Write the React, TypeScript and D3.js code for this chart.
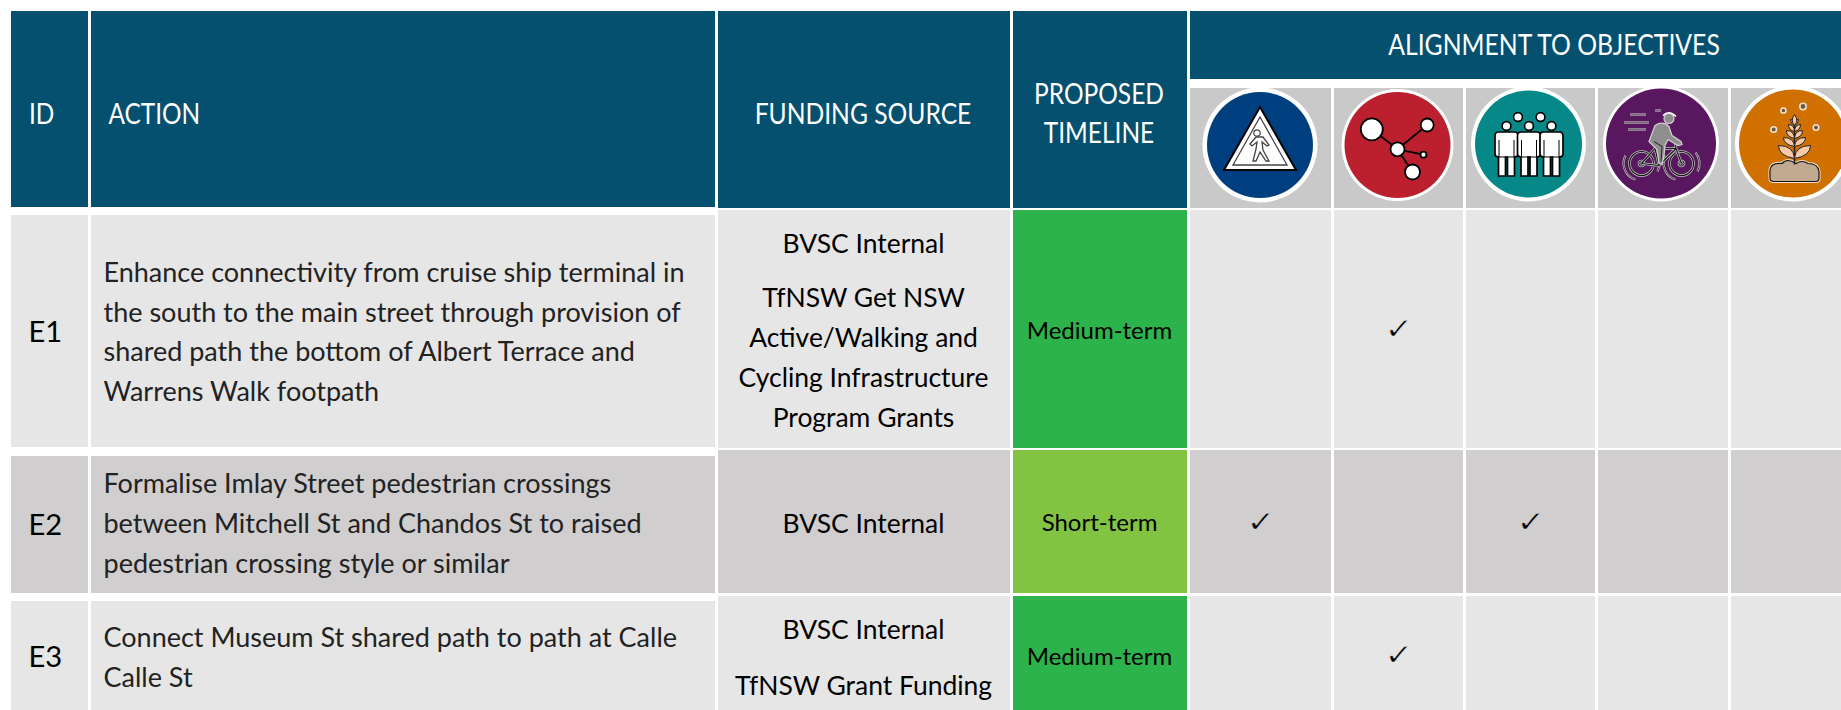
import React, { useEffect, useRef } from "react";
import * as d3 from "d3";

// table content
const ids = ["E1", "E2", "E3"];
const actions = [
  [
    "Enhance connectivity from cruise ship terminal in",
    "the south to the main street through provision of",
    "shared path the bottom of Albert Terrace and",
    "Warrens Walk footpath",
  ],
  [
    "Formalise Imlay Street pedestrian crossings",
    "between Mitchell St and Chandos St to raised",
    "pedestrian crossing style or similar",
  ],
  ["Connect Museum St shared path to path at Calle", "Calle St"],
];
const funding = [
  ["BVSC Internal", "TfNSW Get NSW", "Active/Walking and", "Cycling Infrastructure", "Program Grants"],
  ["BVSC Internal"],
  ["BVSC Internal", "TfNSW Grant Funding"],
];
const timeline = ["Medium-term", "Short-term", "Medium-term"];
const objectives = ["safety", "connect", "community", "active", "growth"];
const alignment = [["connect"], ["safety", "community"], ["connect"]];

const WIDTH = 1841;
const HEIGHT = 710;
const FONT = "Lato";

const colors = {
  header: "#04506e",
  light: "#e6e6e6",
  dark: "#d0cecf",
  iconBg: "#c9c9c9",
  medium: "#2db34b",
  short: "#82c341",
};
const objX = [
  [1190, 1331],
  [1334, 1463],
  [1466, 1595],
  [1598, 1728],
  [1731, 1841],
];
const rowY = [
  [210, 448],
  [450, 593],
  [596, 710],
];
const leftRowY = [
  [215, 447],
  [456, 593],
  [601, 710],
];
const idBase = [342, 535, 667];
const actionBase = [
  [282, 321.5, 361, 400.5],
  [493, 533, 573],
  [647, 687],
];
const fundBase = [
  [253, 307, 347, 387, 427],
  [533],
  [639, 695],
];
const timeBase = [339, 531, 665];
const checkY = [339, 532, 665];
const iconCentre = [
  { x: 1260, y: 145, outer: 57.5, inner: 53, fill: "#003f7f" },
  { x: 1397.5, y: 145, outer: 56, inner: 53, fill: "#bc1f2e" },
  { x: 1528.5, y: 144, outer: 57.5, inner: 53.5, fill: "#078888" },
  { x: 1661, y: 143.5, outer: 58, inner: 55, fill: "#58175e" },
  { x: 1793, y: 143.5, outer: 58, inner: 54, fill: "#d07000" },
];

type G = d3.Selection<SVGGElement, unknown, null, undefined>;

function drawSafety(g: G) {
  g.append("path").attr("d", "M0,-38 L36,25 L-36,25 Z").attr("fill", "#fff").attr("stroke", "#000").attr("stroke-width", 2);
  g.append("path").attr("d", "M0,-28 L27,20 L-27,20 Z").attr("fill", "none").attr("stroke", "#444").attr("stroke-width", 1.3);
  g.append("circle").attr("cx", -3).attr("cy", -12).attr("r", 3.2).attr("fill", "#fff").attr("stroke", "#444").attr("stroke-width", 1.2);
  g.append("path")
    .attr("d", "M-4,-8 L3,-8 L9,0 L7,1 L2,-3 L3,5 L9,16 L6,16 L0,7 L-4,16 L-7,16 L-4,4 L-3,-3 L-8,1 L-10,-1 Z")
    .attr("fill", "#fff")
    .attr("stroke", "#444")
    .attr("stroke-width", 1.3);
}

function drawConnect(g: G) {
  const nodes = [
    [-25.7, -15.7, 11],
    [29.7, -20, 6.5],
    [0, 4.3, 7],
    [26, 9.7, 3],
    [15, 27, 7.5],
  ];
  [0, 1, 3, 4].forEach(i => {
    g.append("line")
      .attr("x1", nodes[2][0]).attr("y1", nodes[2][1])
      .attr("x2", nodes[i][0]).attr("y2", nodes[i][1])
      .attr("stroke", "#000").attr("stroke-width", 1.8);
  });
  nodes.forEach(n => {
    g.append("circle").attr("cx", n[0]).attr("cy", n[1]).attr("r", n[2])
      .attr("fill", "#fff").attr("stroke", "#000").attr("stroke-width", 1.8);
  });
}

function drawCommunity(g: G) {
  [[-22, -18], [-10.5, -27], [0.5, -18], [12, -27], [23, -18]].forEach(h => {
    g.append("circle").attr("cx", h[0]).attr("cy", h[1]).attr("r", 4.4)
      .attr("fill", "#fff").attr("stroke", "#000").attr("stroke-width", 1.6);
  });
  [-22, 0.5, 23].forEach(x => {
    g.append("path")
      .attr("transform", `translate(${x},0)`)
      .attr("d", "M-8,-12 H8 Q11.5,-12 11.5,-8 V10 Q11.5,13 8,13 V32 H1 V13 H-1 V32 H-8 V13 Q-11.5,13 -11.5,10 V-8 Q-11.5,-12 -8,-12 Z")
      .attr("fill", "#fff").attr("stroke", "#000").attr("stroke-width", 1.7);
    g.append("path")
      .attr("transform", `translate(${x},0)`)
      .attr("d", "M-7.5,-4 V13 H7.5 V-4")
      .attr("fill", "none").attr("stroke", "#000").attr("stroke-width", 1);
  });
}

// black line with the pale halo the cyclist icon has
function halo(g: G, d: string, width = 1.2) {
  g.append("path").attr("d", d).attr("fill", "none").attr("stroke", "#c4c4c4").attr("stroke-width", width + 1.4);
  g.append("path").attr("d", d).attr("fill", "none").attr("stroke", "#1a1a1a").attr("stroke-width", width);
}

function drawActive(g: G) {
  [-19.5, 20.5].forEach(x => {
    const ring = (r: number) => `M${x - r},20 A${r},${r} 0 1 1 ${x + r},20 A${r},${r} 0 1 1 ${x - r},20`;
    halo(g, ring(12));
    halo(g, ring(2.6), 1);
    halo(g, `M${x - 16},12 A17,17 0 0 0 ${x - 6},36 M${x + 16},28 A17,17 0 0 0 ${x + 14},9`, 0.8);
  });
  halo(g, "M-19.5,20 L-6,5 L15,5 L20.5,20 M-6,5 L-2,22 L15,5 M-2,22 L-19.5,20 M14,-6 L15,5");
  g.append("path")
    .attr("d", "M-12,-2 L-6,-18 Q2,-23 8,-17 L11,-8 L20,-2 L21,1 L17,2 L7,-4 L4,2 L3,12 L1,21 L-2,20 L-4,6 L-12,-2 Z")
    .attr("fill", "#8e8e8e").attr("stroke", "#d0d0d0").attr("stroke-width", 1.2);
  g.append("path").attr("d", "M-7,-2 L1,3 L0,18").attr("fill", "none").attr("stroke", "#222").attr("stroke-width", 1);
  g.append("circle").attr("cx", 8).attr("cy", -25).attr("r", 5)
    .attr("fill", "#8e8e8e").attr("stroke", "#d0d0d0").attr("stroke-width", 1.2);
  g.append("path").attr("d", "M2,-28 Q8,-34 15,-27").attr("fill", "none").attr("stroke", "#fff").attr("stroke-width", 1.6);
  g.append("path")
    .attr("d", "M-31,-29 H-15 M-37,-21 H-12 M-33,-14 H-15 M-6,-33 H0")
    .attr("fill", "none").attr("stroke", "#d8d8d8").attr("stroke-width", 2.2);
  g.append("path")
    .attr("d", "M-31,-29 H-15 M-37,-21 H-12 M-33,-14 H-15 M-6,-33 H0")
    .attr("fill", "none").attr("stroke", "#444").attr("stroke-width", 0.7);
}

function drawGrowth(g: G) {
  [[-9.6, -33, 2.6], [10, -37, 3.2], [-19.3, -14, 2.8], [23, -16, 2.8]].forEach(d => {
    g.append("circle").attr("cx", d[0]).attr("cy", d[1]).attr("r", d[2])
      .attr("fill", "#6a5a48").attr("stroke", "#f5e4d0").attr("stroke-width", 1.5);
  });
  const soil = "M-23,35 V26 Q-22,19 -11,20 Q-6,14 3,20 Q9,16 15,20 Q25,20 26,28 V35 Q26,38 22,38 H-19 Q-23,38 -23,35 Z";
  g.append("path").attr("d", soil).attr("fill", "#c0a98e").attr("stroke", "#f5e4d0").attr("stroke-width", 3);
  g.append("path").attr("d", soil).attr("fill", "#c0a98e").attr("stroke", "#111").attr("stroke-width", 1.2);
  g.append("path").attr("d", "M1.5,21 V-20").attr("stroke", "#222").attr("stroke-width", 1.6);
  // leaf pairs, bottom to top: [y of the base, length, rise]
  const leaves = [
    [15, 16, 13],
    [3, 11, 9],
    [-5, 8, 8],
    [-12, 6, 7],
    [-18, 4, 6],
  ];
  leaves.forEach(l => {
    [-1, 1].forEach(side => {
      const x0 = 1.5;
      const x1 = x0 + side * l[1];
      g.append("path")
        .attr("d", `M${x0},${l[0]} Q${x0 + side * l[1] * 0.05},${l[0] - l[2]} ${x1},${l[0] - l[2]} Q${x1},${l[0] - l[2] * 0.2} ${x0},${l[0]} Z`)
        .attr("fill", "#f9c9a8").attr("stroke", "#222").attr("stroke-width", 1);
    });
  });
  g.append("path").attr("d", "M1.5,-18 Q6,-23 1.5,-29 Q-3,-23 1.5,-18 Z").attr("fill", "#f9c9a8").attr("stroke", "#222").attr("stroke-width", 1);
}

const iconDrawers: Record<string, (g: G) => void> = {
  safety: drawSafety,
  connect: drawConnect,
  community: drawCommunity,
  active: drawActive,
  growth: drawGrowth,
};

export default function App() {
  const ref = useRef<SVGSVGElement>(null);

  useEffect(() => {
    const svg = d3.select(ref.current as SVGSVGElement);
    svg.selectAll("*").remove();

    const rect = (x0: number, x1: number, y0: number, y1: number, fill: string) =>
      svg.append("rect").attr("x", x0).attr("y", y0).attr("width", x1 - x0).attr("height", y1 - y0).attr("fill", fill);

    // sx condenses the caps so Lato sits at the width of the original's face
    const label = (
      str: string,
      x: number,
      y: number,
      size: number,
      fill: string,
      anchor: string,
      sx: number,
      family = FONT
    ) =>
      svg.append("text")
        .attr("transform", `translate(${x},${y}) scale(${sx},1)`)
        .attr("text-anchor", anchor)
        .attr("font-family", family)
        .attr("font-size", size)
        .attr("fill", fill)
        .text(str);

    const objScale = d3.scaleOrdinal<string, number[]>().domain(objectives).range(objX);

    // header
    rect(11, 88, 11, 207, colors.header);
    rect(91, 715, 11, 207, colors.header);
    rect(718, 1010, 11, 208, colors.header);
    rect(1013, 1187, 11, 208, colors.header);
    rect(1190, WIDTH, 11, 79, colors.header);
    label("ID", 29, 124, 28, "#fff", "start", 0.87);
    label("ACTION", 108.5, 124, 28, "#fff", "start", 0.87);
    label("FUNDING SOURCE", 863, 124, 28, "#fff", "middle", 0.88);
    label("PROPOSED", 1099, 104, 28, "#fff", "middle", 0.875);
    label("TIMELINE", 1099, 143, 28, "#fff", "middle", 0.875);
    label("ALIGNMENT TO OBJECTIVES", 1554, 55, 28, "#fff", "middle", 0.885);

    // objective icons
    objectives.forEach((key, i) => {
      const [x0, x1] = objScale(key);
      rect(x0, x1, 88, 208, colors.iconBg);
      const c = iconCentre[i];
      svg.append("circle").attr("cx", c.x).attr("cy", c.y).attr("r", c.outer).attr("fill", "#fff");
      svg.append("circle").attr("cx", c.x).attr("cy", c.y).attr("r", c.inner).attr("fill", c.fill);
      const g = svg.append("g").attr("transform", `translate(${c.x},${c.y})`) as unknown as G;
      iconDrawers[key](g);
    });

    // rows
    ids.forEach((id, r) => {
      const fill = r === 1 ? colors.dark : colors.light;
      const [y0, y1] = rowY[r];
      const [ly0, ly1] = leftRowY[r];
      rect(11, 88, ly0, ly1, fill);
      rect(91, 715, ly0, ly1, fill);
      rect(718, 1010, y0, y1, fill);
      rect(1013, 1187, y0, y1, timeline[r] === "Short-term" ? colors.short : colors.medium);
      objectives.forEach(key => {
        const [x0, x1] = objScale(key);
        rect(x0, x1, y0, y1, fill);
      });

      label(id, 28.5, idBase[r], 28, "#000", "start", 1.04);
      actions[r].forEach((line, i) => {
        label(line, 103.5, actionBase[r][i], 27, "#222", "start", 1);
      });
      funding[r].forEach((line, i) => {
        label(line, 863.5, fundBase[r][i], 27, "#000", "middle", 0.98);
      });
      label(timeline[r], 1099.5, timeBase[r], 24, "#000", "middle", 1);

      alignment[r].forEach(key => {
        const [x0, x1] = objScale(key);
        // the row colour as a stroke thins DejaVu's heavy tick
        label("\u2713", (x0 + x1) / 2 + 0.5, checkY[r], 30, "#000", "middle", 1.15, "DejaVu Sans")
          .attr("stroke", fill)
          .attr("stroke-width", 0.7);
      });
    });
  }, []);

  return (
    <svg
      ref={ref}
      width={WIDTH}
      height={HEIGHT}
      style={{ position: "absolute", left: 0, top: 0, display: "block", background: "#fff" }}
    />
  );
}
